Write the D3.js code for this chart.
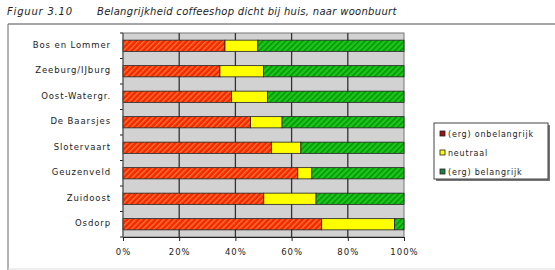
<!DOCTYPE html>
<html>
<head>
<meta charset="utf-8">
<script src="https://cdn.jsdelivr.net/npm/d3@7"></script>
<style>
  body { margin: 0; background: #fff; }
  svg { font-family: "DejaVu Sans", Arial, sans-serif; }
</style>
</head>
<body>
<svg id="chart" width="555" height="270"></svg>
<script>
const categories = ["Bos en Lommer", "Zeeburg/IJburg", "Oost-Watergr.", "De Baarsjes", "Slotervaart", "Geuzenveld", "Zuidoost", "Osdorp"];
const onbelangrijk = [36.3, 34.5, 38.6, 45.4, 52.8, 62.2, 50.1, 70.7];
const neutraal = [11.7, 15.5, 12.8, 11.2, 10.5, 5.0, 18.6, 25.9];
const belangrijk = [52.0, 50.0, 48.6, 43.4, 36.7, 32.8, 31.3, 3.4];
const seriesNames = ["(erg) onbelangrijk", "neutraal", "(erg) belangrijk"];
const tickValues = [0, 20, 40, 60, 80, 100];

const svg = d3.select("#chart");

// patterns for hatched fills
const defs = svg.append("defs");
function hatch(id, bg, fg) {
    const p = defs.append("pattern")
        .attr("id", id)
        .attr("patternUnits", "userSpaceOnUse")
        .attr("width", 4).attr("height", 4)
        .attr("patternTransform", "rotate(45)");
    p.append("rect").attr("width", 4).attr("height", 4).attr("fill", bg);
    p.append("rect").attr("width", 1.4).attr("height", 4).attr("fill", fg);
}
hatch("hRed", "#f52600", "#ff7a30");
hatch("hGreen", "#18c818", "#0b8a0b");
const fills = ["url(#hRed)", "#ffff00", "url(#hGreen)"];
const swatch = ["#a01010", "#ffff00", "#208040"];

// title
svg.append("text").attr("x", 7).attr("y", 15)
    .attr("font-size", 10).attr("font-style", "italic").attr("letter-spacing", 0.8).attr("fill", "#222")
    .text("Figuur 3.10");
svg.append("text").attr("x", 97).attr("y", 15)
    .attr("font-size", 10).attr("font-style", "italic").attr("letter-spacing", 0.3).attr("fill", "#222")
    .text("Belangrijkheid coffeeshop dicht bij huis, naar woonbuurt");

// outer frame
svg.append("line").attr("x1", 8).attr("x2", 555).attr("y1", 24).attr("y2", 24)
    .attr("stroke", "#888").attr("stroke-width", 1.5);
svg.append("line").attr("x1", 8).attr("x2", 8).attr("y1", 24).attr("y2", 270)
    .attr("stroke", "#666").attr("stroke-width", 1);
svg.append("line").attr("x1", 8).attr("x2", 555).attr("y1", 269).attr("y2", 269)
    .attr("stroke", "#ddd").attr("stroke-width", 1);

const margin = { top: 33, left: 123 };
const width = 281, height = 204;

const x = d3.scaleLinear().domain([0, 100]).range([0, width]);
const y = d3.scaleBand().domain(categories).range([0, height]).paddingInner(0.56).paddingOuter(0.28);

const chart = svg.append("g").attr("transform", `translate(${margin.left},${margin.top})`);

chart.append("rect").attr("width", width).attr("height", height)
    .attr("fill", "#d2d2d2").attr("stroke", "#777");

chart.selectAll(".grid").data(tickValues.slice(1, -1)).join("line")
    .attr("class", "grid")
    .attr("x1", d => x(d)).attr("x2", d => x(d))
    .attr("y1", 0).attr("y2", height)
    .attr("stroke", "#333").attr("stroke-width", 1.3);

const stackData = categories.map((c, i) => ({ cat: c, 0: onbelangrijk[i], 1: neutraal[i], 2: belangrijk[i] }));
const stacked = d3.stack().keys([0, 1, 2])(stackData);

chart.selectAll(".series").data(stacked).join("g")
    .attr("class", "series")
    .attr("fill", (d, i) => fills[i])
    .selectAll("rect").data(d => d).join("rect")
    .attr("x", d => x(d[0]))
    .attr("width", d => x(d[1]) - x(d[0]))
    .attr("y", d => y(d.data.cat))
    .attr("height", y.bandwidth())
    .attr("stroke", "#222").attr("stroke-width", 0.8);

// x axis
const xAxis = chart.append("g").attr("transform", `translate(0,${height})`)
    .call(d3.axisBottom(x).tickValues(tickValues).tickFormat(d => d + "%").tickSize(4).tickPadding(8));
xAxis.select(".domain").attr("stroke", "#222");
xAxis.selectAll("line").attr("stroke", "#222");
xAxis.selectAll("text").attr("font-size", 8.5).attr("fill", "#222")
    .attr("letter-spacing", 1)
    .attr("font-family", "DejaVu Sans, Arial, sans-serif");

// y axis
const yAxis = chart.append("g");
yAxis.selectAll(".ytick").data(d3.range(categories.length + 1)).join("line")
    .attr("x1", -3).attr("x2", 0)
    .attr("y1", i => i * height / categories.length).attr("y2", i => i * height / categories.length)
    .attr("stroke", "#222");
yAxis.append("line").attr("y1", 0).attr("y2", height).attr("stroke", "#555");
yAxis.selectAll(".ylab").data(categories).join("text")
    .attr("x", -12).attr("y", d => y(d) + y.bandwidth() / 2 - 1)
    .attr("dy", "0.35em").attr("text-anchor", "end")
    .attr("font-size", 8.5).attr("letter-spacing", 0.9).attr("fill", "#222")
    .text(d => d);

// legend
const legend = svg.append("g").attr("transform", "translate(434,123)");
legend.append("rect").attr("x", 2).attr("y", 2).attr("width", 114).attr("height", 56).attr("fill", "#777");
legend.append("rect").attr("width", 114).attr("height", 56).attr("fill", "#fff").attr("stroke", "#444");
seriesNames.forEach((name, i) => {
    const g = legend.append("g").attr("transform", `translate(6,${11 + i * 19})`);
    g.append("rect").attr("x", 0).attr("y", -3).attr("width", 5).attr("height", 5)
        .attr("fill", swatch[i]).attr("stroke", "#222").attr("stroke-width", 0.8);
    g.append("text").attr("x", 8).attr("y", 0).attr("dy", "0.35em")
        .attr("font-size", 8).attr("letter-spacing", 0.8).attr("fill", "#222").text(name);
});
</script>
</body>
</html>
